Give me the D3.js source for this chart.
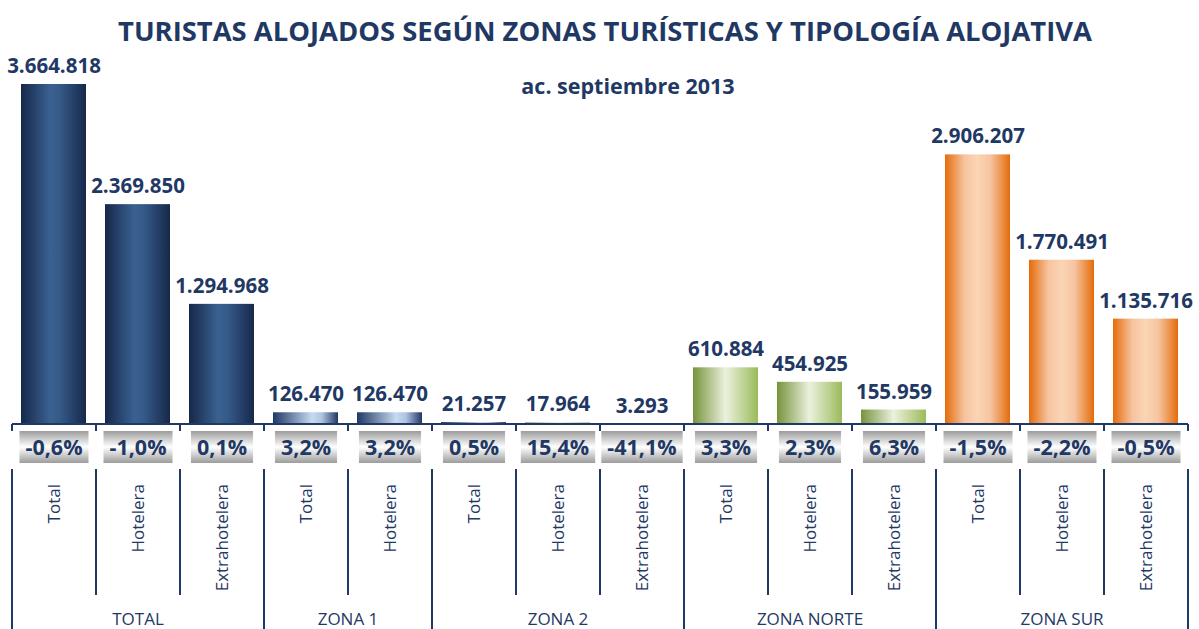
<!DOCTYPE html>
<html>
<head>
<meta charset="utf-8">
<script src="https://cdn.jsdelivr.net/npm/d3@7.9.0/dist/d3.min.js"></script>
<style>
  body { margin: 0; background: #fff; }
  svg { display: block; font-family: 'Open Sans', sans-serif; }
</style>
</head>
<body>
<div id="chart"></div>
<script>
const groups = ["TOTAL", "ZONA 1", "ZONA 2", "ZONA NORTE", "ZONA SUR"];
const groupSizes = [3, 2, 3, 3, 3];
const categories = ["Total", "Hotelera", "Extrahotelera",
  "Total", "Hotelera",
  "Total", "Hotelera", "Extrahotelera",
  "Total", "Hotelera", "Extrahotelera",
  "Total", "Hotelera", "Extrahotelera"];
const values = [3664818, 2369850, 1294968, 126470, 126470, 21257, 17964, 3293,
  610884, 454925, 155959, 2906207, 1770491, 1135716];
const valueLabels = ["3.664.818", "2.369.850", "1.294.968", "126.470", "126.470",
  "21.257", "17.964", "3.293", "610.884", "454.925", "155.959",
  "2.906.207", "1.770.491", "1.135.716"];
const changes = ["-0,6%", "-1,0%", "0,1%", "3,2%", "3,2%", "0,5%", "15,4%", "-41,1%",
  "3,3%", "2,3%", "6,3%", "-1,5%", "-2,2%", "-0,5%"];
const fills = ["navy", "navy", "navy", "light", "light", "light", "green", "green",
  "green", "green", "green", "orange", "orange", "orange"];

const width = 1199;
const height = 629;
const dark = "#1f3864";
const axisY = 424;

const svg = d3.select('#chart').append('svg')
  .attr('width', width).attr('height', height)
  .attr('viewBox', `0 0 ${width} ${height}`);

const defs = svg.append('defs');
const grads = {
  navy: [[0, "#16284a"], [0.45, "#3a6192"], [0.6, "#355a88"], [1, "#16284a"]],
  light: [[0, "#1f3864"], [0.6, "#c6d9f1"], [0.75, "#b0c4e2"], [1, "#1f3864"]],
  green: [[0, "#77933c"], [0.5, "#ebf1de"], [1, "#9bbb59"]],
  orange: [[0, "#e46c0a"], [0.3, "#f6c4a0"], [0.5, "#fbd5b5"], [0.7, "#f6c4a0"], [1, "#e46c0a"]]
};
Object.entries(grads).forEach(([k, stops]) => {
  const g = defs.append('linearGradient').attr('id', 'g-' + k)
    .attr('x1', 0).attr('x2', 1).attr('y1', 0).attr('y2', 0);
  stops.forEach(s => g.append('stop').attr('offset', s[0]).attr('stop-color', s[1]));
});
const boxGrad = defs.append('linearGradient').attr('id', 'g-box')
  .attr('x1', 0).attr('x2', 0).attr('y1', 0).attr('y2', 1);
[[0, "#9c9c9c"], [0.5, "#ffffff"], [1, "#9c9c9c"]].forEach(s =>
  boxGrad.append('stop').attr('offset', s[0]).attr('stop-color', s[1]));

const x = d3.scaleBand()
  .domain(d3.range(values.length))
  .range([12, 1188])
  .padding(0);

const y = d3.scaleLinear()
  .domain([0, d3.max(values)])
  .range([axisY, 84]);

const barW = 65;

// title
svg.append('text')
  .attr('x', 605).attr('y', 41)
  .attr('text-anchor', 'middle')
  .attr('font-size', 27.4).attr('font-weight', 'bold')
  .attr('fill', dark)
  .text("TURISTAS ALOJADOS SEGÚN ZONAS TURÍSTICAS Y TIPOLOGÍA ALOJATIVA");

svg.append('text')
  .attr('x', 628).attr('y', 94)
  .attr('text-anchor', 'middle')
  .attr('font-size', 21.5).attr('font-weight', 'bold')
  .attr('fill', dark)
  .text("ac. septiembre 2013");

// bars
svg.append('g').selectAll('rect')
  .data(values)
  .join('rect')
  .attr('x', (d, i) => x(i) + x.bandwidth() / 2 - barW / 2 - 0.5)
  .attr('y', d => y(d))
  .attr('width', barW)
  .attr('height', d => axisY - y(d))
  .attr('fill', (d, i) => `url(#g-${fills[i]})`);

// value labels
svg.append('g').selectAll('text')
  .data(values)
  .join('text')
  .attr('x', (d, i) => x(i) + x.bandwidth() / 2)
  .attr('y', d => y(d) - 11)
  .attr('text-anchor', 'middle')
  .attr('font-size', 20.5).attr('font-weight', 'bold')
  .attr('fill', dark)
  .text((d, i) => valueLabels[i]);

// axis line and ticks
const axis = svg.append('g').attr('stroke', dark).attr('stroke-width', 2);
axis.append('line').attr('x1', 12).attr('x2', 1188).attr('y1', axisY).attr('y2', axisY);

const bounds = d3.range(values.length + 1).map(i => i < values.length ? x(i) : x.range()[1]);
const groupEdges = new Set(d3.cumsum([0, ...groupSizes]));
axis.selectAll('.tick')
  .data(bounds)
  .join('line')
  .attr('x1', d => d).attr('x2', d => d)
  .attr('y1', axisY).attr('y2', axisY + 7);
axis.selectAll('.div')
  .data(bounds)
  .join('line')
  .attr('x1', d => d).attr('x2', d => d)
  .attr('y1', 469)
  .attr('y2', (d, i) => groupEdges.has(i) ? height : 595);

// change boxes
const boxes = svg.append('g').selectAll('g')
  .data(changes)
  .join('g')
  .attr('transform', (d, i) => `translate(${x(i) + x.bandwidth() / 2},447)`);
boxes.each(function (d) {
  const g = d3.select(this);
  const t = g.append('text')
    .attr('text-anchor', 'middle').attr('dy', '0.36em')
    .attr('font-size', 21.5).attr('font-weight', 'bold')
    .attr('fill', dark).text(d);
  const w = Math.max(t.node().getComputedTextLength() + 12, 56);
  g.insert('rect', 'text')
    .attr('x', -w / 2).attr('y', -16).attr('width', w).attr('height', 32)
    .attr('fill', 'url(#g-box)');
});

// category labels
svg.append('g').selectAll('text')
  .data(categories)
  .join('text')
  .attr('transform', (d, i) => `translate(${x(i) + x.bandwidth() / 2 + 6},484) rotate(-90)`)
  .attr('text-anchor', 'end')
  .attr('font-size', 17)
  .attr('fill', dark)
  .text(d => d);

// group labels
const starts = d3.cumsum([0, ...groupSizes]);
svg.append('g').selectAll('text')
  .data(groups)
  .join('text')
  .attr('x', (d, i) => (x(starts[i]) + (starts[i + 1] < values.length ? x(starts[i + 1]) : 1188)) / 2)
  .attr('y', 625)
  .attr('text-anchor', 'middle')
  .attr('font-size', 17)
  .attr('fill', dark)
  .text(d => d);
</script>
</body>
</html>
